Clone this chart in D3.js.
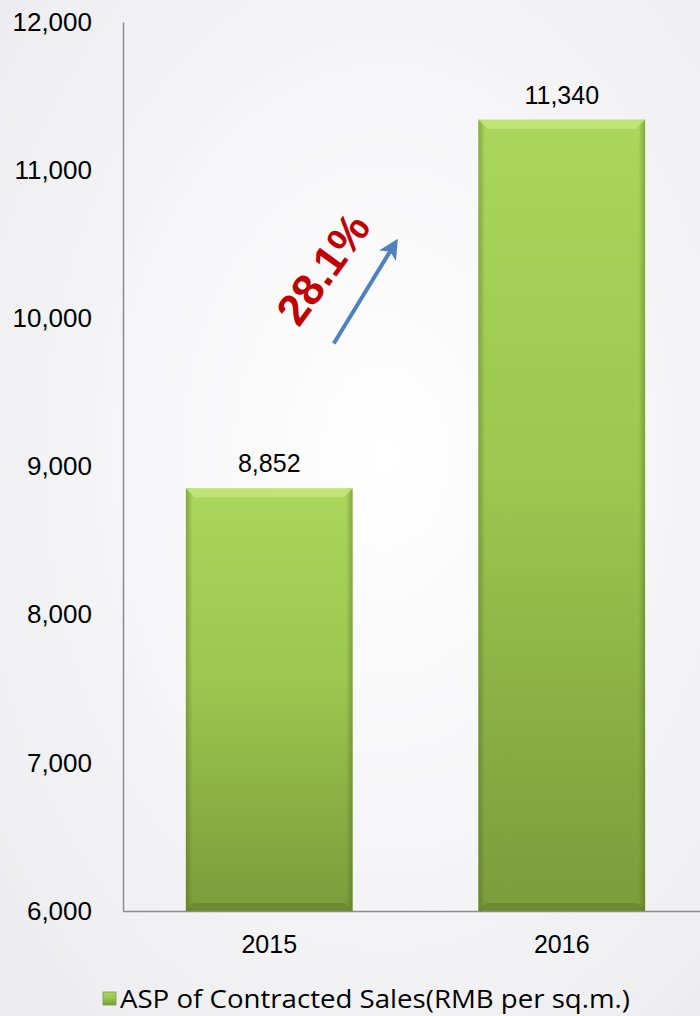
<!DOCTYPE html>
<html>
<head>
<meta charset="utf-8">
<script src="https://cdn.jsdelivr.net/npm/d3@7"></script>
<style>
  html, body { margin: 0; padding: 0; }
  body { width: 700px; height: 1016px; overflow: hidden; }
</style>
</head>
<body>
<svg id="container" width="700" height="1016"></svg>
<script>
(function (d3) {
  'use strict';

  const years = ['2015', '2016'];
  const asp = [8852, 11340];
  const yTicks = [6000, 7000, 8000, 9000, 10000, 11000, 12000];
  const growthLabel = '28.1%';
  const legendLabel = 'ASP of Contracted Sales(RMB per sq.m.)';

  const svg = d3.select('#container');
  const width = +svg.attr('width');
  const height = +svg.attr('height');

  const margin = { top: 22, left: 123, bottom: height - 911 };
  const plotRight = 708;
  const FONT = 'Liberation Sans, Arial, sans-serif';

  const defs = svg.append('defs');

  // background: soft grey radial wash
  const bg = defs.append('radialGradient').attr('id', 'bg')
    .attr('cx', '55%').attr('cy', '45%').attr('r', '75%');
  bg.append('stop').attr('offset', '0%').attr('stop-color', '#ffffff');
  bg.append('stop').attr('offset', '100%').attr('stop-color', '#ececf0');

  const barFill = defs.append('linearGradient').attr('id', 'barFill')
    .attr('x1', 0).attr('y1', 0).attr('x2', 0).attr('y2', 1);
  barFill.append('stop').attr('offset', '0%').attr('stop-color', '#aad65b');
  barFill.append('stop').attr('offset', '45%').attr('stop-color', '#9cc750');
  barFill.append('stop').attr('offset', '100%').attr('stop-color', '#7b9c3b');

  const barSide = defs.append('linearGradient').attr('id', 'barSide')
    .attr('x1', 0).attr('y1', 0).attr('x2', 1).attr('y2', 0);
  barSide.append('stop').attr('offset', '0%').attr('stop-color', '#3d5214').attr('stop-opacity', 0.35);
  barSide.append('stop').attr('offset', '4%').attr('stop-color', '#3d5214').attr('stop-opacity', 0);
  barSide.append('stop').attr('offset', '96%').attr('stop-color', '#3d5214').attr('stop-opacity', 0);
  barSide.append('stop').attr('offset', '100%').attr('stop-color', '#3d5214').attr('stop-opacity', 0.35);

  svg.append('rect').attr('width', width).attr('height', height).attr('fill', 'url(#bg)');

  const x = d3.scaleBand()
    .domain(years)
    .range([margin.left, plotRight])
    .paddingInner(0.43)
    .paddingOuter(0.215);

  const y = d3.scaleLinear()
    .domain([6000, 12000])
    .range([height - margin.bottom, margin.top]);

  // y axis
  const yAxis = svg.append('g')
    .attr('transform', `translate(${margin.left},0)`)
    .call(d3.axisLeft(y).tickValues(yTicks).tickFormat(d3.format(',')).tickSize(0).tickPadding(31));
  yAxis.select('.domain').attr('stroke', '#8c8c8c').attr('stroke-width', 1.5);
  yAxis.selectAll('text')
    .attr('font-family', FONT)
    .attr('font-size', 26).attr('fill', '#000');

  // bars
  const bars = svg.selectAll('g.bar')
    .data(years.map((yr, i) => ({ yr, v: asp[i] })))
    .enter().append('g').attr('class', 'bar');

  bars.append('rect')
    .attr('x', d => x(d.yr)).attr('width', x.bandwidth())
    .attr('y', d => y(d.v)).attr('height', d => y(6000) - y(d.v))
    .attr('fill', 'url(#barFill)');
  bars.append('rect')
    .attr('x', d => x(d.yr)).attr('width', x.bandwidth())
    .attr('y', d => y(d.v)).attr('height', d => y(6000) - y(d.v))
    .attr('fill', 'url(#barSide)');
  // top bevel
  bars.append('path')
    .attr('d', d => {
      const x0 = x(d.yr), x1 = x0 + x.bandwidth(), t = y(d.v), b = 9;
      return `M${x0},${t}L${x1},${t}L${x1 - b},${t + b}L${x0 + b},${t + b}Z`;
    })
    .attr('fill', '#c4e67e').attr('opacity', 0.85);
  // bottom bevel
  bars.append('path')
    .attr('d', d => {
      const x0 = x(d.yr), x1 = x0 + x.bandwidth(), bt = y(6000), b = 8;
      return `M${x0},${bt}L${x1},${bt}L${x1 - b},${bt - b}L${x0 + b},${bt - b}Z`;
    })
    .attr('fill', '#5f7a2a').attr('opacity', 0.5);

  bars.append('text')
    .attr('x', d => x(d.yr) + x.bandwidth() / 2)
    .attr('y', d => y(d.v) - 16)
    .attr('text-anchor', 'middle')
    .attr('font-family', FONT)
    .attr('font-size', 25).attr('fill', '#000')
    .text(d => d3.format(',')(d.v));

  // x axis
  const xAxis = svg.append('g')
    .attr('transform', `translate(0,${y(6000)})`)
    .call(d3.axisBottom(x).tickSize(0).tickPadding(24).tickSizeOuter(0));
  xAxis.select('.domain').attr('stroke', '#8c8c8c').attr('stroke-width', 1.5);
  xAxis.selectAll('text')
    .attr('font-family', FONT)
    .attr('font-size', 25).attr('fill', '#000');

  // growth annotation
  const arrowFrom = { v: 9830, t: 0.887 };
  const arrowTo = { v: 10480, t: 1.24 };
  const ax = t => x('2015') + x.bandwidth() * t;
  defs.append('marker').attr('id', 'head')
    .attr('viewBox', '0 0 10 10').attr('refX', 5).attr('refY', 5)
    .attr('markerWidth', 5).attr('markerHeight', 5).attr('orient', 'auto')
    .attr('markerUnits', 'strokeWidth')
    .append('path').attr('d', 'M0,0L10,5L0,10L2.5,5Z').attr('fill', '#4f81bd');
  svg.append('line')
    .attr('x1', ax(arrowFrom.t)).attr('y1', y(arrowFrom.v))
    .attr('x2', ax(arrowTo.t)).attr('y2', y(arrowTo.v))
    .attr('stroke', '#4f81bd').attr('stroke-width', 4)
    .attr('marker-end', 'url(#head)');

  svg.append('text')
    .attr('transform', `translate(${ax(0.84)},${y(10320)}) rotate(-54)`)
    .attr('text-anchor', 'middle')
    .attr('dominant-baseline', 'middle')
    .attr('font-family', FONT)
    .attr('font-weight', 'bold')
    .attr('font-size', 44).attr('fill', '#c00000')
    .text(growthLabel);

  // legend
  const legend = svg.append('g').attr('transform', 'translate(103,1006)');
  legend.append('rect').attr('x', 0).attr('y', -14).attr('width', 13).attr('height', 13)
    .attr('fill', 'url(#barFill)').attr('stroke', '#7b9c3b').attr('stroke-width', 0.8);
  legend.append('text')
    .attr('x', 17).attr('y', 2)
    .attr('font-family', 'Open Sans, Noto Sans, sans-serif')
    .attr('font-size', 26).attr('fill', '#000')
    .attr('textLength', 510).attr('lengthAdjust', 'spacingAndGlyphs')
    .text(legendLabel);
}(d3));
</script>
</body>
</html>
